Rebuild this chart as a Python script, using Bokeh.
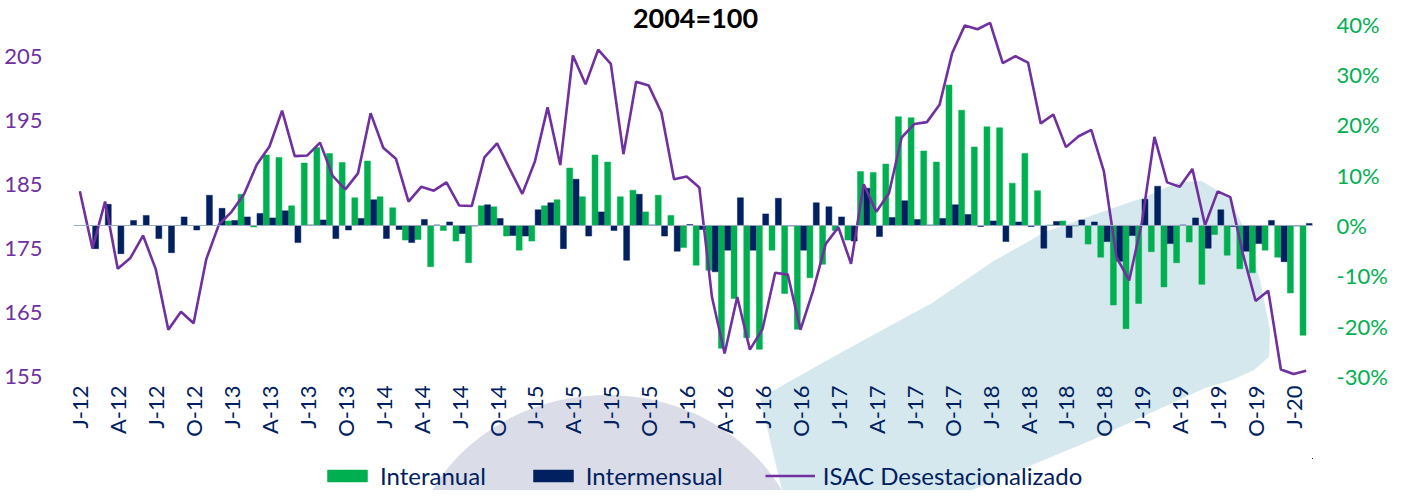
import base64
from bokeh.plotting import figure
from bokeh.layouts import column
from bokeh.models import (Range1d, LinearAxis, FixedTicker, ColumnDataSource, Span,
                          Legend, LegendItem, Label, NumeralTickFormatter)
from bokeh.embed import file_html
from bokeh.resources import INLINE

# ---------------- data ----------------
# monthly, Jan-2012 .. Feb-2020
tick_labels = ["J-12", "A-12", "J-12", "O-12", "J-13", "A-13", "J-13", "O-13",
               "J-14", "A-14", "J-14", "O-14", "J-15", "A-15", "J-15", "O-15",
               "J-16", "A-16", "J-16", "O-16", "J-17", "A-17", "J-17", "O-17",
               "J-18", "A-18", "J-18", "O-18", "J-19", "A-19", "J-19", "O-19",
               "J-20"]

isac = [183.9, 175.0, 182.3, 171.8, 173.5, 177.0, 171.8, 162.3, 165.1, 163.3, 173.3, 178.7,
        180.7, 183.5, 188.1, 190.9, 196.5, 189.4, 189.5, 191.5, 186.3, 184.2, 186.7, 196.1,
        190.7, 189.0, 182.3, 184.6, 184.0, 185.3, 181.7, 181.6, 189.2, 191.4, 187.4, 183.5,
        188.6, 197.0, 188.0, 205.1, 200.6, 206.0, 203.8, 189.7, 201.0, 200.4, 196.2, 185.8,
        186.2, 184.5, 167.4, 158.6, 167.4, 159.2, 162.4, 171.2, 170.9, 162.3, 168.4, 175.7,
        178.3, 172.6, 185.0, 180.7, 183.6, 192.3, 194.4, 194.7, 197.4, 205.5, 209.8, 209.2,
        210.2, 203.9, 205.0, 204.0, 194.5, 195.9, 190.8, 192.5, 193.5, 187.0, 173.6, 170.0,
        179.0, 192.4, 185.3, 184.6, 187.4, 178.6, 183.9, 183.0, 174.1, 166.8, 168.4, 156.1,
        155.4, 155.9]

# year-on-year change, %
interanual = [None, None, None, None, None, None, None, None, None, None, None, None,
              0.9, 6.2, -0.3, 14.0, 13.5, 3.9, 12.4, 15.5, 14.3, 12.5, 5.5, 12.8,
              5.7, 3.5, -2.9, -2.8, -8.2, -1.0, -3.1, -7.4, 3.9, 3.7, -2.1, -4.9,
              -3.1, 3.9, 5.1, 11.4, 5.7, 14.0, 12.6, 5.7, 7.0, 2.7, 6.0, 2.0,
              -4.4, -7.9, -8.9, -24.4, -14.5, -22.3, -24.6, -4.9, -13.5, -20.6, -10.4, -7.7,
              -1.0, -2.9, 10.7, 10.5, 12.2, 21.6, 21.4, 14.8, 12.6, 27.9, 22.9, 15.6,
              19.6, 19.4, 8.4, 14.3, 6.9, 0.1, 0.9, -0.1, -3.7, -6.3, -15.8, -20.5,
              -15.5, -5.2, -12.2, -7.4, -3.3, -11.7, -1.8, -5.9, -8.6, -9.4, -4.9, -6.3,
              -13.4, -21.8]

# month-on-month change, %
intermensual = [None, -4.6, 4.2, -5.6, 1.0, 2.0, -2.6, -5.4, 1.7, -0.9, 6.0, 3.4,
                1.0, 1.7, 2.4, 1.5, 2.9, -3.4, 0.1, 1.1, -2.6, -0.9, 1.4, 5.1,
                -2.6, -0.8, -3.4, 1.2, 0.1, 0.7, -1.6, -0.1, 4.1, 1.4, -2.0, -2.1,
                3.1, 4.5, -4.6, 9.2, -2.1, 2.7, -1.0, -6.9, 6.2, 0.1, -2.1, -5.1,
                0.2, -0.8, -9.2, -4.9, 5.5, -4.9, 2.3, 5.4, -0.1, -4.9, 4.5, 3.7,
                1.7, -3.1, 7.4, -2.2, 1.6, 4.9, 1.2, 0.1, 1.4, 4.1, 2.2, -0.2,
                0.9, -3.2, 0.7, -0.2, -4.5, 0.8, -2.4, 1.1, 0.7, -3.2, -7.1, -2.0,
                5.2, 7.8, -3.6, 0.1, 1.5, -4.5, 3.1, -0.2, -5.1, -3.6, 1.0, -7.2,
                -0.1, 0.4]

legend_labels = ["Interanual", "Intermensual", "ISAC Desestacionalizado"]

# ---------------- style / geometry ----------------
GREEN = "#00b050"
NAVY = "#002060"
PURPLE = "#7030a0"
FONT = "Lato"

W, H = 1399, 490
LEG_H = 32
PH = H - LEG_H                              # main plot height
BORDER_L, BORDER_R, BORDER_T = 73, 87, 1
FRAME_BOTTOM = 376                          # canvas y of the -30% level
BORDER_B = PH - FRAME_BOTTOM
FRAME_H = FRAME_BOTTOM - BORDER_T
LEFT_MIN, LEFT_AT_40 = 155.0, 210.0         # left axis value at -30% / +40% level
PCT_MIN, PCT_MAX = -0.30, 0.40
SPAN_PX = 352.4                             # pixels between -30% and +40%
left_top = LEFT_MIN + (LEFT_AT_40 - LEFT_MIN) * FRAME_H / SPAN_PX
pct_top = PCT_MIN + (PCT_MAX - PCT_MIN) * FRAME_H / SPAN_PX
TITLE_Y_PX = 17                             # canvas y of the title's centre
title_y = LEFT_MIN + (LEFT_AT_40 - LEFT_MIN) * (FRAME_BOTTOM - TITLE_Y_PX) / SPAN_PX

# background watermark (decorative logo shapes), canvas pixels
wm_blue = [(782, 490), (760, 398), (842, 352), (932, 303), (992, 262), (1045, 232),
           (1099, 213), (1145, 197), (1179, 182), (1202, 181), (1229, 198), (1245, 230),
           (1260, 280), (1270, 330), (1269, 357), (1254, 370), (1232, 380), (1205, 388),
           (1092, 440), (972, 490)]
wm_path = "M" + " L".join(f"{x},{y}" for x, y in wm_blue) + " Z"
svg_bg = (f'<svg xmlns="http://www.w3.org/2000/svg" width="{W}" height="{H}">'
          f'<ellipse cx="607" cy="580" rx="200" ry="185" fill="#dadde8"/>'
          f'<path d="{wm_path}" fill="#d5e8ed"/></svg>')
bg_uri = "data:image/svg+xml;base64," + base64.b64encode(svg_bg.encode()).decode()


def bg_styles(offset_y):
    return {"background-image": f"url('{bg_uri}')",
            "background-repeat": "no-repeat",
            "background-size": f"{W}px {H}px",
            "background-position": f"0px {-offset_y}px"}


n = len(isac)
idx = list(range(n))

p = figure(width=W, height=PH, output_backend="svg", toolbar_location=None,
           x_range=Range1d(-0.5, n - 0.5), y_range=Range1d(LEFT_MIN, left_top),
           min_border_left=BORDER_L, min_border_right=BORDER_R, min_border_top=BORDER_T,
           min_border_bottom=BORDER_B, styles=bg_styles(0))
p.extra_y_ranges = {"pct": Range1d(PCT_MIN, pct_top)}
p.outline_line_color = None
p.xgrid.visible = False
p.ygrid.visible = False
p.background_fill_alpha = 0
p.border_fill_alpha = 0

# bars
ia = [(i, v) for i, v in zip(idx, interanual) if v is not None]
im = [(i, v) for i, v in zip(idx, intermensual) if v is not None]
src_ia = ColumnDataSource(dict(x=[i - 0.25 for i, _ in ia], top=[v / 100 for _, v in ia]))
src_im = ColumnDataSource(dict(x=[i + 0.25 for i, _ in im], top=[v / 100 for _, v in im]))
src_ln = ColumnDataSource(dict(x=idx, y=isac))

bar_ia = dict(fill_color=GREEN, line_color=GREEN, line_width=0.5)
bar_im = dict(fill_color=NAVY, line_color=NAVY, line_width=0.5)
line_st = dict(line_color=PURPLE, line_width=2.6)

p.vbar(x="x", top="top", bottom=0, width=0.47, source=src_ia, y_range_name="pct", **bar_ia)
p.vbar(x="x", top="top", bottom=0, width=0.47, source=src_im, y_range_name="pct", **bar_im)

base = Span(location=0, dimension="width", y_range_name="pct",
            line_color="#9aa9c4", line_width=1)
p.add_layout(base)

p.line(x="x", y="y", source=src_ln, **line_st)

# axes
xa = p.xaxis[0]
xa.ticker = FixedTicker(ticks=list(range(0, n, 3)))
xa.major_label_overrides = {i * 3: lab for i, lab in enumerate(tick_labels)}
xa.major_label_orientation = 3.14159265 / 2
xa.axis_line_color = None
xa.major_tick_line_color = None
xa.minor_tick_line_color = None
xa.major_tick_out = 0
xa.major_tick_in = 0
xa.major_label_standoff = 9
xa.major_label_text_font = FONT
xa.major_label_text_font_size = "22px"
xa.major_label_text_color = NAVY

ya = p.yaxis[0]
ya.ticker = FixedTicker(ticks=[155, 165, 175, 185, 195, 205])
ya.axis_line_color = None
ya.major_tick_line_color = None
ya.minor_tick_line_color = None
ya.major_tick_out = 0
ya.major_tick_in = 0
ya.major_label_standoff = 31
ya.major_label_text_font = FONT
ya.major_label_text_font_size = "22px"
ya.major_label_text_color = PURPLE

ra = LinearAxis(y_range_name="pct",
                ticker=FixedTicker(ticks=[-0.3, -0.2, -0.1, 0.0, 0.1, 0.2, 0.3, 0.4]),
                formatter=NumeralTickFormatter(format="0%"))
ra.axis_line_color = None
ra.major_tick_line_color = None
ra.minor_tick_line_color = None
ra.major_tick_out = 0
ra.major_tick_in = 0
ra.major_label_standoff = 24
ra.major_label_text_font = FONT
ra.major_label_text_font_size = "22px"
ra.major_label_text_color = GREEN
p.add_layout(ra, "right")

# title (inside the frame, which reaches the canvas top)
title = Label(x=48.7, y=title_y, text="2004=100", text_align="center",
              text_baseline="middle", text_font=FONT, text_font_style="bold",
              text_font_size="27px", text_color="black")
p.add_layout(title)

# legend strip below the chart; its renderers share the chart's data but
# lie outside this strip's visible ranges, so only the legend shows
lf = figure(width=W, height=LEG_H, output_backend="svg", toolbar_location=None,
            x_range=Range1d(-1000, -999), y_range=Range1d(-1000, -999),
            x_axis_location=None, y_axis_location=None, min_border=0,
            styles=bg_styles(PH))
lf.outline_line_color = None
lf.xgrid.visible = False
lf.ygrid.visible = False
lf.background_fill_alpha = 0
lf.border_fill_alpha = 0
k1 = lf.vbar(x="x", top="top", bottom=0, width=0.47, source=src_ia, **bar_ia)
k2 = lf.vbar(x="x", top="top", bottom=0, width=0.47, source=src_im, **bar_im)
k3 = lf.line(x="x", y="y", source=src_ln, **line_st)
legend = Legend(items=[LegendItem(label=legend_labels[0], renderers=[k1]),
                       LegendItem(label=legend_labels[1], renderers=[k2]),
                       LegendItem(label=legend_labels[2], renderers=[k3])],
                orientation="horizontal", location=(249, 0),
                glyph_width=50, glyph_height=15, label_standoff=8, spacing=42,
                padding=0, margin=0, border_line_alpha=0, background_fill_alpha=0,
                label_text_font=FONT, label_text_font_size="24px",
                label_text_color=NAVY)
lf.add_layout(legend)

layout = column(p, lf, spacing=0)
open("out.html", "w").write(file_html(layout, INLINE))
